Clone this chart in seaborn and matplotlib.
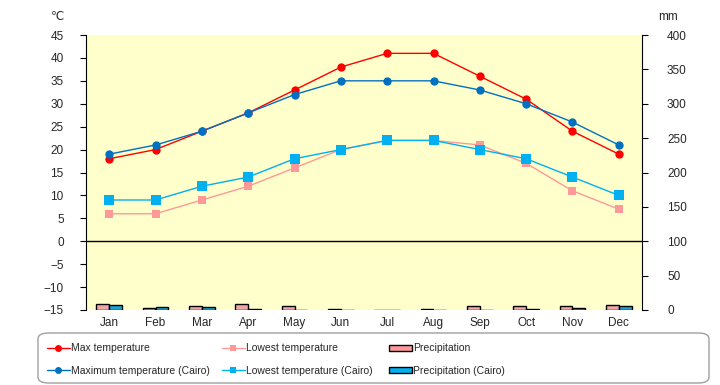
"""Monthly climate chart: temperature lines over precipitation bars."""

import matplotlib
matplotlib.use("Agg")

import matplotlib.pyplot as plt
import numpy as np
import pandas as pd
import seaborn as sns
from matplotlib.lines import Line2D
from matplotlib.patches import FancyBboxPatch, Patch

months = ["Jan", "Feb", "Mar", "Apr", "May", "Jun",
          "Jul", "Aug", "Sep", "Oct", "Nov", "Dec"]

max_temp = [18, 20, 24, 28, 33, 38, 41, 41, 36, 31, 24, 19]
max_temp_cairo = [19, 21, 24, 28, 32, 35, 35, 35, 33, 30, 26, 21]
low_temp = [6, 6, 9, 12, 16, 20, 22, 22, 21, 17, 11, 7]
low_temp_cairo = [9, 9, 12, 14, 18, 20, 22, 22, 20, 18, 14, 10]

precip = [9, 3, 6, 9, 6, 1, 0, 1, 6, 6, 6, 8]
precip_cairo = [7, 4.5, 4, 1, 0, 0, 0, 0, 0, 1, 3, 6]

temp_ticks = list(range(-15, 50, 5))
precip_ticks = list(range(0, 450, 50))

RED = "#FF0000"
PINK = "#FF9999"
BLUE = "#0070C0"
CYAN = "#00B0F0"
BG = "#FFFFCC"

sns.set_style("white")
plt.rcParams["font.family"] = ["Liberation Sans", "DejaVu Sans"]
plt.rcParams["font.size"] = 8.5

fig = plt.figure(figsize=(7.2, 3.85), dpi=100)
ax = fig.add_axes([86 / 720, 1 - 310 / 385, 556 / 720, 275 / 385])
ax2 = ax.twinx()
ax.set_zorder(ax2.get_zorder() + 1)
ax.patch.set_visible(False)
ax2.patch.set_visible(True)
ax2.set_facecolor(BG)

# precipitation bars on the right axis
bars = pd.DataFrame({
    "month": months * 2,
    "mm": precip + precip_cairo,
    "city": ["Precipitation"] * 12 + ["Precipitation (Cairo)"] * 12,
})
sns.barplot(data=bars, x="month", y="mm", hue="city", order=months,
            palette=[PINK, CYAN], edgecolor="black", linewidth=1,
            width=0.56, dodge=True, legend=False, ax=ax2)
ax2.set_ylim(0, 400)
ax2.set_yticks(precip_ticks)
ax2.set_ylabel("")
ax2.set_xlabel("")

# temperature lines on the left axis
x = np.arange(12)
series = [
    (max_temp, RED, "o", 6),
    (low_temp, PINK, "s", 6),
    (max_temp_cairo, BLUE, "o", 6),
    (low_temp_cairo, CYAN, "s", 6.5),
]
for vals, color, marker, ms in series:
    sns.lineplot(x=x, y=vals, color=color, marker=marker, markersize=ms,
                 markeredgewidth=0, linewidth=1, ax=ax)

ax.axhline(0, color="black", linewidth=1)
ax.set_ylim(-15, 45)
ax.set_xlim(-0.5, 11.5)
ax.set_yticks(temp_ticks)
ax.set_xticks(x)
ax.set_xticklabels(months)
ax2.tick_params(axis="x", labelbottom=False)

for a in (ax, ax2):
    for side in ("top", "bottom"):
        a.spines[side].set_visible(False)
    a.tick_params(axis="x", length=0, pad=5)
ax.spines["left"].set_color("black")
ax2.spines["right"].set_color("black")
ax.spines["right"].set_visible(False)
ax2.spines["left"].set_visible(False)
ax.tick_params(axis="y", direction="out", length=4, color="black", left=True, pad=12)
ax2.tick_params(axis="y", direction="out", length=4, color="black", right=True, pad=14)

fig.text(57 / 720, 1 - 17 / 385, "℃", ha="center", va="center", fontsize=8.5)
fig.text(668 / 720, 1 - 17 / 385, "mm", ha="center", va="center", fontsize=8.5)

# legend frame and three fixed columns
fig.patches.append(FancyBboxPatch(
    (38 / 720, 1 - 383 / 385), 671 / 720, 50 / 385,
    boxstyle="round,pad=0,rounding_size=0.015", transform=fig.transFigure,
    facecolor="white", edgecolor="#A0A0A0", linewidth=1))

columns = [
    (47, [Line2D([], [], color=RED, marker="o", markersize=5, markeredgewidth=0, lw=1),
          Line2D([], [], color=BLUE, marker="o", markersize=5, markeredgewidth=0, lw=1)],
     ["Max temperature", "Maximum temperature (Cairo)"]),
    (222, [Line2D([], [], color=PINK, marker="s", markersize=5, markeredgewidth=0, lw=1),
           Line2D([], [], color=CYAN, marker="s", markersize=5, markeredgewidth=0, lw=1)],
     ["Lowest temperature", "Lowest temperature (Cairo)"]),
    (389, [Patch(facecolor=PINK, edgecolor="black"),
           Patch(facecolor=CYAN, edgecolor="black")],
     ["Precipitation", "Precipitation (Cairo)"]),
]
for x0, hs, ls in columns:
    fig.legend(hs, ls, loc="center left",
               bbox_to_anchor=(x0 / 720, 1 - 359.5 / 385),
               frameon=False, handlelength=2.2, handleheight=0.5,
               handletextpad=0.1, labelspacing=1.2, borderpad=0,
               borderaxespad=0, fontsize=7.5)

fig.savefig("out.png", dpi=100)
